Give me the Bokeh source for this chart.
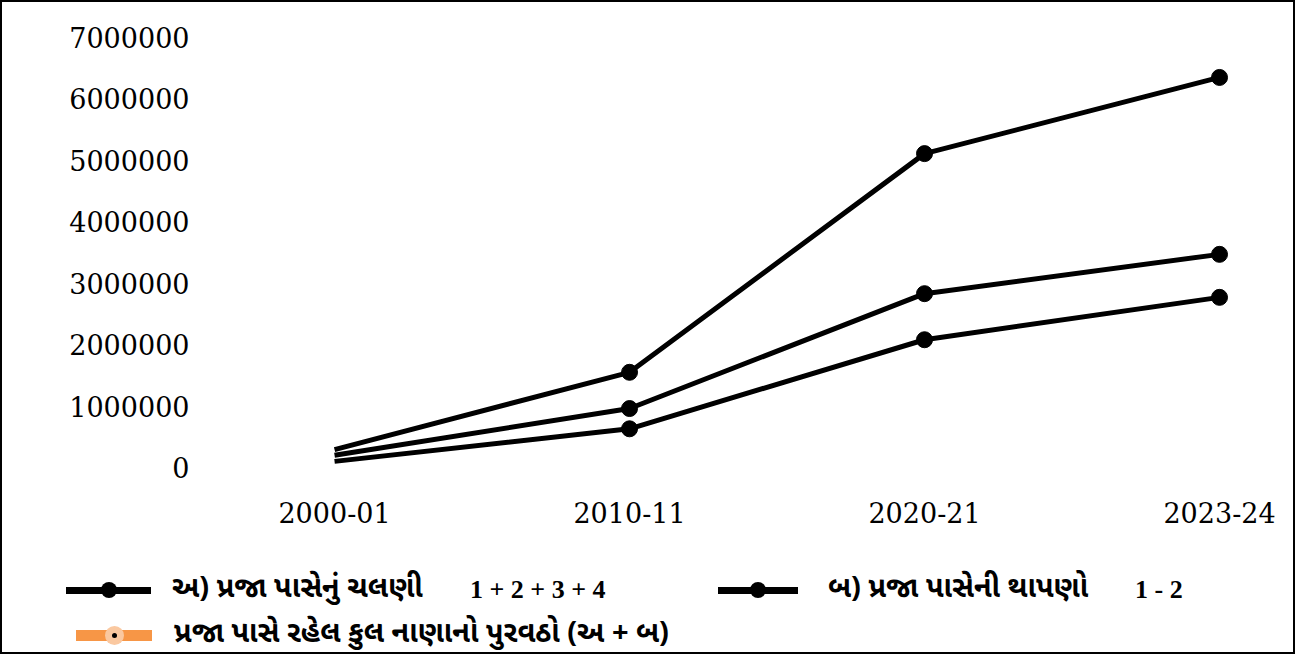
from bokeh.plotting import figure
from bokeh.models import (Range1d, FixedTicker, ColumnDataSource,
                          NumeralTickFormatter, Div)
from bokeh.layouts import column
from bokeh.embed import file_html
from bokeh.resources import INLINE

# ---------------- data ----------------
years = ["2000-01", "2010-11", "2020-21", "2023-24"]
total_supply = [290000, 1550000, 5110000, 6350000]      # (અ + બ)
currency_public = [200000, 960000, 2830000, 3470000]    # અ
deposits_public = [100000, 630000, 2080000, 2770000]    # બ
y_ticks = [0, 1000000, 2000000, 3000000, 4000000, 5000000, 6000000, 7000000]

legend_names = ["અ) પ્રજા પાસેનું ચલણી", "બ) પ્રજા પાસેની થાપણો",
                "પ્રજા પાસે રહેલ કુલ નાણાનો પુરવઠો (અ + બ)"]
legend_notes = ["1 + 2 + 3 + 4", "1 - 2", ""]

SERIF = "DejaVu Serif"
GUJ = "'Noto Sans Gujarati', 'Noto Serif Gujarati', 'Lohit Gujarati', sans-serif"

xs = list(range(len(years)))

# ---------------- chart ----------------
p = figure(width=1291, height=532, output_backend="svg", toolbar_location=None,
           x_range=Range1d(-0.451, 3.244), y_range=Range1d(-358000, 7212000),
           min_border_left=199, min_border_right=2, min_border_top=22,
           min_border_bottom=45)
p.outline_line_color = None
p.grid.visible = False

for series in (total_supply, currency_public, deposits_public):
    src = ColumnDataSource(dict(x=xs, y=series))
    p.line("x", "y", source=src, line_width=5, line_color="black")
    msrc = ColumnDataSource(dict(x=xs[1:], y=series[1:]))
    p.scatter("x", "y", source=msrc, size=16, fill_color="black", line_color="black")

p.xaxis.ticker = FixedTicker(ticks=xs)
p.xaxis.major_label_overrides = {i: y for i, y in zip(xs, years)}
p.yaxis.ticker = FixedTicker(ticks=y_ticks)
p.yaxis.formatter = NumeralTickFormatter(format="0")
for ax in (p.xaxis[0], p.yaxis[0]):
    ax.axis_line_color = None
    ax.major_tick_line_color = None
    ax.minor_tick_line_color = None
    ax.major_tick_out = 0
    ax.major_tick_in = 0
    ax.major_label_text_font = SERIF
    ax.major_label_text_font_size = "27px"
    ax.major_label_text_color = "black"
p.xaxis.major_label_standoff = 12
p.yaxis.major_label_standoff = 12

# ---------------- legend (HTML, below the chart) ----------------
def glyph(left, cy, width, thick, color, dot_fill, dot_size, center_dot):
    h = (f'<div style="position:absolute;left:{left}px;top:{cy - thick / 2}px;'
         f'width:{width}px;height:{thick}px;background:{color};"></div>')
    cx = left + width / 2
    h += (f'<div style="position:absolute;left:{cx - dot_size / 2}px;top:{cy - dot_size / 2}px;'
          f'width:{dot_size}px;height:{dot_size}px;border-radius:50%;background:{dot_fill};"></div>')
    if center_dot:
        h += (f'<div style="position:absolute;left:{cx - 2.5}px;top:{cy - 2.5}px;'
              f'width:5px;height:5px;border-radius:50%;background:black;"></div>')
    return h

def label(left, cy, text, font, size):
    return (f'<div style="position:absolute;left:{left}px;top:{cy - 20}px;height:40px;'
            f'line-height:40px;white-space:nowrap;font-family:{font};font-size:{size}px;'
            f'font-weight:bold;color:black;">{text}</div>')

rows = [
    # glyph_left, cy, glyph_width, thickness, color, marker fill, marker size, dot,
    # label_left, note_left
    (64, 56, 85, 7, "black", "black", 16, False, 170, 468),
    (716, 56, 80, 7, "black", "black", 16, False, 826, 1133),
    (74, 101, 76, 11, "#F79646", "#FAC8A0", 19, True, 172, None),
]
html = '<div style="position:relative;width:1291px;height:118px;">'
for (gl, cy, gw, th, col, mf, ms, cd, ll, nl), name, note in zip(rows, legend_names, legend_notes):
    html += glyph(gl, cy, gw, th, col, mf, ms, cd)
    html += label(ll, cy, name, GUJ, 29)
    if note:
        html += label(nl, cy, note, "'Liberation Serif', serif", 26)
html += '</div>'

legend_div = Div(text=html, width=1291, height=118, margin=(0, 0, 0, 0))

layout = column(p, legend_div, spacing=0)
layout.styles = {"border": "2px solid black"}

open("out.html", "w").write(file_html(layout, INLINE))
